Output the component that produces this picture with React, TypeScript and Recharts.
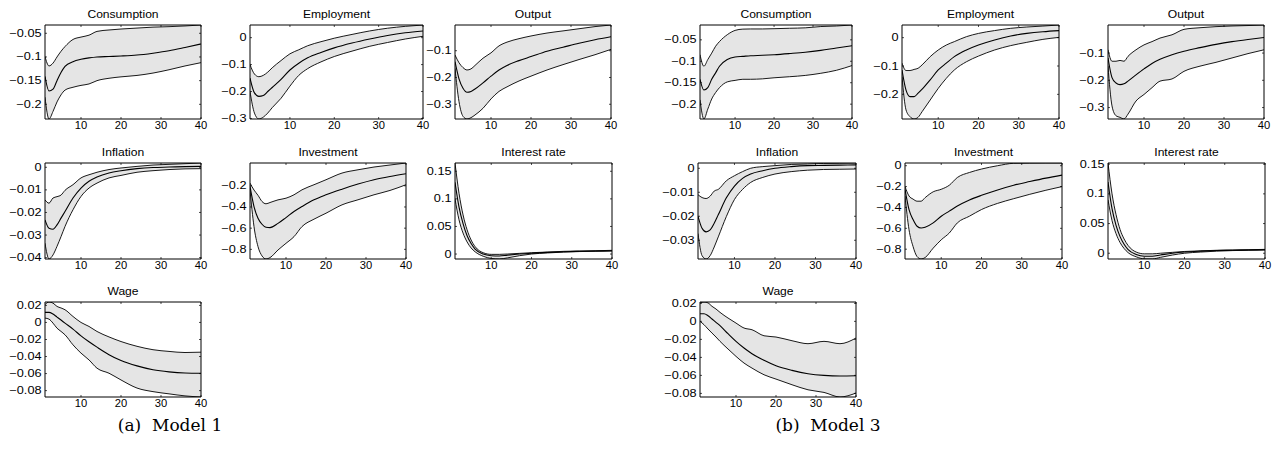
import React from 'react';
import { ComposedChart, Area, Line, XAxis, YAxis } from 'recharts';

// ---------- data ----------
const periods = [1, 2, 3, 4, 5, 6, 8, 10, 12, 14, 17, 20, 24, 28, 32, 36, 40];
const xTicks = [10, 20, 30, 40];

// Model 1
const cons1Hi = [-0.099, -0.119, -0.113, -0.1, -0.088, -0.078, -0.063, -0.058, -0.054, -0.046, -0.043, -0.041, -0.039, -0.037, -0.036, -0.0345, -0.0325];
const cons1Mid = [-0.141, -0.172, -0.168, -0.15, -0.133, -0.12, -0.11, -0.105, -0.102, -0.1, -0.099, -0.098, -0.096, -0.092, -0.087, -0.08, -0.0725];
const cons1Lo = [-0.185, -0.231, -0.215, -0.195, -0.18, -0.17, -0.164, -0.16, -0.157, -0.15, -0.145, -0.142, -0.139, -0.134, -0.127, -0.119, -0.112];

const empl1Hi = [-0.1, -0.135, -0.145, -0.14, -0.128, -0.112, -0.085, -0.06, -0.045, -0.03, -0.015, -0.002, 0.012, 0.025, 0.035, 0.042, 0.047];
const empl1Mid = [-0.15, -0.205, -0.218, -0.215, -0.2, -0.185, -0.155, -0.12, -0.095, -0.075, -0.055, -0.038, -0.02, -0.005, 0.008, 0.018, 0.025];
const empl1Lo = [-0.2, -0.28, -0.302, -0.295, -0.28, -0.26, -0.225, -0.18, -0.14, -0.115, -0.09, -0.07, -0.05, -0.032, -0.018, -0.005, 0.005];

const out1Hi = [-0.116, -0.145, -0.163, -0.172, -0.168, -0.155, -0.128, -0.108, -0.082, -0.068, -0.055, -0.045, -0.034, -0.026, -0.018, -0.01, -0.004];
const out1Mid = [-0.141, -0.205, -0.24, -0.255, -0.252, -0.243, -0.22, -0.195, -0.172, -0.155, -0.137, -0.122, -0.102, -0.087, -0.072, -0.059, -0.048];
const out1Lo = [-0.166, -0.29, -0.345, -0.355, -0.35, -0.34, -0.315, -0.28, -0.252, -0.235, -0.213, -0.195, -0.172, -0.152, -0.133, -0.115, -0.095];

const infl1Hi = [-0.0144, -0.0159, -0.0136, -0.013, -0.0123, -0.0102, -0.0077, -0.0047, -0.0033, -0.0022, -0.001, -0.0003, 0.0004, 0.001, 0.0013, 0.0016, 0.0019];
const infl1Mid = [-0.0233, -0.027, -0.0274, -0.0255, -0.0225, -0.0196, -0.0136, -0.0092, -0.0062, -0.0043, -0.0025, -0.0015, -0.0006, -0.0001, 0.0001, 0.0003, 0.0004];
const infl1Lo = [-0.0336, -0.0406, -0.0388, -0.035, -0.0307, -0.0262, -0.0188, -0.0129, -0.0092, -0.007, -0.0047, -0.0036, -0.0022, -0.0015, -0.001, -0.0007, -0.0006];

const inv1Hi = [-0.175, -0.24, -0.29, -0.348, -0.37, -0.358, -0.333, -0.317, -0.285, -0.238, -0.19, -0.143, -0.08, -0.049, -0.023, -0.004, 0.015];
const inv1Mid = [-0.206, -0.396, -0.506, -0.563, -0.592, -0.595, -0.555, -0.5, -0.443, -0.396, -0.332, -0.285, -0.232, -0.184, -0.143, -0.112, -0.086];
const inv1Lo = [-0.238, -0.585, -0.774, -0.862, -0.891, -0.878, -0.806, -0.743, -0.68, -0.585, -0.515, -0.459, -0.38, -0.332, -0.285, -0.244, -0.19];

const int1Hi = [0.165, 0.11, 0.071, 0.044, 0.0255, 0.0134, 0.0024, -0.0006, -0.0006, 0.0, 0.0012, 0.0024, 0.0036, 0.0049, 0.0055, 0.006, 0.0067];
const int1Mid = [0.13, 0.085, 0.055, 0.033, 0.019, 0.009, 0.0, -0.003, -0.0035, -0.002, 0.0, 0.0015, 0.003, 0.0042, 0.005, 0.0055, 0.006];
const int1Lo = [0.1, 0.062, 0.038, 0.022, 0.011, 0.004, -0.004, -0.008, -0.009, -0.007, -0.003, 0.0, 0.002, 0.0035, 0.0045, 0.005, 0.0055];

const wage1Hi = [0.021, 0.024, 0.0227, 0.0188, 0.017, 0.0149, 0.007, 0.0, -0.0047, -0.0106, -0.017, -0.0224, -0.028, -0.032, -0.034, -0.0353, -0.0349];
const wage1Mid = [0.0118, 0.0118, 0.0098, 0.0063, 0.0028, -0.0008, -0.0078, -0.0157, -0.0227, -0.029, -0.0378, -0.0447, -0.051, -0.0555, -0.058, -0.0593, -0.0596];
const wage1Lo = [0.0051, 0.0039, -0.0008, -0.0067, -0.0105, -0.0145, -0.0263, -0.036, -0.044, -0.0537, -0.0596, -0.0675, -0.077, -0.0812, -0.0838, -0.0862, -0.0875];

// Model 3
const cons3Hi = [-0.0846, -0.1115, -0.096, -0.081, -0.065, -0.054, -0.038, -0.028, -0.025, -0.0246, -0.0246, -0.024, -0.023, -0.022, -0.019, -0.0177, -0.0154];
const cons3Mid = [-0.142, -0.167, -0.1615, -0.142, -0.127, -0.1115, -0.096, -0.09, -0.0885, -0.087, -0.086, -0.0846, -0.082, -0.079, -0.0746, -0.069, -0.0638];
const cons3Lo = [-0.19, -0.2346, -0.2115, -0.188, -0.173, -0.1615, -0.148, -0.1446, -0.142, -0.142, -0.141, -0.1385, -0.136, -0.133, -0.128, -0.121, -0.11];

const empl3Hi = [-0.09, -0.116, -0.116, -0.112, -0.108, -0.096, -0.067, -0.0435, -0.026, -0.014, 0.0035, 0.015, 0.025, 0.033, 0.0376, 0.041, 0.0447];
const empl3Mid = [-0.114, -0.185, -0.208, -0.208, -0.196, -0.182, -0.149, -0.114, -0.09, -0.067, -0.0435, -0.026, -0.008, 0.006, 0.015, 0.021, 0.025];
const empl3Lo = [-0.138, -0.255, -0.279, -0.287, -0.281, -0.261, -0.22, -0.179, -0.1435, -0.114, -0.085, -0.065, -0.0435, -0.028, -0.0165, -0.006, 0.001];

const out3Hi = [-0.088, -0.13, -0.13, -0.127, -0.13, -0.112, -0.088, -0.07, -0.058, -0.045, -0.033, -0.013, -0.007, -0.003, -0.0006, 0.001, 0.003];
const out3Mid = [-0.118, -0.19, -0.21, -0.216, -0.213, -0.203, -0.18, -0.158, -0.138, -0.123, -0.106, -0.093, -0.08, -0.068, -0.058, -0.05, -0.043];
const out3Lo = [-0.148, -0.294, -0.33, -0.336, -0.342, -0.324, -0.276, -0.252, -0.227, -0.203, -0.195, -0.167, -0.148, -0.134, -0.118, -0.102, -0.088];

const infl3Hi = [-0.011, -0.0122, -0.0126, -0.0116, -0.0095, -0.0088, -0.0052, -0.0031, -0.0014, 0.0, 0.0007, 0.0011, 0.0016, 0.0018, 0.002, 0.0021, 0.0022];
const infl3Mid = [-0.02, -0.025, -0.0265, -0.0257, -0.0229, -0.0194, -0.0123, -0.0074, -0.0042, -0.0024, -0.001, 0.0, 0.0007, 0.0011, 0.0012, 0.0013, 0.0014];
const infl3Lo = [-0.0272, -0.0364, -0.0378, -0.0364, -0.0328, -0.0286, -0.0201, -0.013, -0.0088, -0.0059, -0.0038, -0.0024, -0.0014, -0.0008, -0.0005, -0.0004, -0.0003];

const inv3Hi = [-0.2, -0.29, -0.32, -0.34, -0.34, -0.306, -0.25, -0.226, -0.187, -0.113, -0.065, -0.032, 0.0, 0.023, 0.025, 0.026, 0.026];
const inv3Mid = [-0.226, -0.42, -0.516, -0.58, -0.597, -0.59, -0.548, -0.484, -0.435, -0.387, -0.329, -0.284, -0.232, -0.187, -0.152, -0.119, -0.09];
const inv3Lo = [-0.29, -0.613, -0.774, -0.871, -0.894, -0.88, -0.79, -0.71, -0.645, -0.548, -0.484, -0.42, -0.361, -0.316, -0.274, -0.235, -0.2];

const int3Hi = [0.152, 0.1, 0.065, 0.04, 0.024, 0.013, 0.002, -0.001, -0.001, 0.0, 0.0015, 0.003, 0.004, 0.005, 0.0055, 0.006, 0.0065];
const int3Mid = [0.12, 0.075, 0.047, 0.028, 0.015, 0.006, -0.002, -0.005, -0.005, -0.003, 0.0, 0.002, 0.0035, 0.0045, 0.005, 0.0055, 0.006];
const int3Lo = [0.09, 0.055, 0.033, 0.018, 0.008, 0.001, -0.006, -0.0095, -0.0097, -0.007, -0.003, 0.0, 0.002, 0.0035, 0.0045, 0.005, 0.0055];

const wage3Hi = [0.0204, 0.0215, 0.0205, 0.0167, 0.0137, 0.01, 0.0037, -0.0019, -0.0074, -0.0093, -0.016, -0.0174, -0.0215, -0.0248, -0.0222, -0.0248, -0.0185];
const wage3Mid = [0.0085, 0.0085, 0.0063, 0.0026, -0.0011, -0.0048, -0.0137, -0.0222, -0.0296, -0.0359, -0.0433, -0.0493, -0.0544, -0.0581, -0.06, -0.0607, -0.0604];
const wage3Lo = [0.0, -0.0037, -0.0085, -0.013, -0.0174, -0.0222, -0.0307, -0.0389, -0.0463, -0.0519, -0.0593, -0.0641, -0.0704, -0.076, -0.0789, -0.084, -0.0796];

// tick labels (y) per variable
const consTicks = [-0.2, -0.15, -0.1, -0.05];
const empl1Ticks = [-0.3, -0.2, -0.1, 0];
const empl3Ticks = [-0.2, -0.1, 0];
const outTicks = [-0.3, -0.2, -0.1];
const infl1Ticks = [-0.04, -0.03, -0.02, -0.01, 0];
const infl3Ticks = [-0.03, -0.02, -0.01, 0];
const inv1Ticks = [-0.8, -0.6, -0.4, -0.2];
const inv3Ticks = [-0.8, -0.6, -0.4, -0.2, 0];
const intTicks = [0, 0.05, 0.1, 0.15];
const wageTicks = [-0.08, -0.06, -0.04, -0.02, 0, 0.02];

const titles = ['Consumption', 'Employment', 'Output', 'Inflation', 'Investment', 'Interest rate', 'Wage'];
const captions = ['(a)  Model 1', '(b)  Model 3'];

// ---------- layout (plot boxes: left, top, right, bottom) ----------
const layout1 = [
  [45, 25, 201, 119], [250, 25, 423, 119], [455, 25, 611, 119],
  [45, 163, 201, 259], [250, 163, 406, 259], [455, 163, 612, 259],
  [45, 302, 201, 397],
];
const layout3 = [
  [700, 25, 852, 119], [902, 25, 1059, 119], [1108, 25, 1264, 119],
  [698, 163, 856, 259], [905, 163, 1062, 259], [1108, 163, 1265, 259],
  [700, 302, 856, 397],
];

const FONT = "'Liberation Sans', Arial, Helvetica, sans-serif";
const ML = 48, MR = 8, MT = 4, MB = 18;
const TL = 2;

const fmt = (v: number) => String(Math.round(v * 1000) / 1000).replace('-', '\u2212');

type PanelProps = { title: string; lo: number[]; mid: number[]; hi: number[]; yTicks: number[]; box: number[] };

function Panel({ title, lo, mid, hi, yTicks, box }: PanelProps) {
  const [l, t, r, b] = box;
  const w = r - l, h = b - t;
  const W = w + ML + MR, H = h + MT + MB;
  const data = periods.map((x, i) => ({ x, lo: lo[i], mid: mid[i], hi: hi[i], band: [lo[i], hi[i]] }));
  const dom = [Math.min(...lo), Math.max(...hi)];
  const left = ML, right = ML + w, top = MT, bottom = MT + h;

  const xBottomTick = (p: any) => (
    <g>
      <line x1={p.x} x2={p.x} y1={bottom} y2={bottom - TL} stroke="#000" strokeWidth={0.7} />
      <text transform={`translate(${p.x},${bottom + 10}) scale(1.12,1)`} textAnchor="middle" fontSize={10} fontFamily={FONT}
        style={{ fill: '#000' }}>
        {p.payload.value}
      </text>
    </g>
  );
  const xTopTick = (p: any) => (
    <line x1={p.x} x2={p.x} y1={top} y2={top + TL} stroke="#000" strokeWidth={0.7} />
  );
  const yLeftTick = (p: any) => (
    <g>
      <line x1={left} x2={left + TL} y1={p.y} y2={p.y} stroke="#000" strokeWidth={0.7} />
      <text transform={`translate(${left - 3.5},${p.y + 3.5}) scale(1.27,1)`} textAnchor="end" fontSize={10} fontFamily={FONT}
        style={{ fill: '#000' }}>
        {fmt(p.payload.value)}
      </text>
    </g>
  );
  const yRightTick = (p: any) => (
    <line x1={right} x2={right - TL} y1={p.y} y2={p.y} stroke="#000" strokeWidth={0.7} />
  );

  const axisLine = { stroke: '#000', strokeWidth: 1 };

  return (
    <>
      <div
        style={{
          position: 'absolute', left: l, top: t - 18, width: w, height: 14, lineHeight: '14px',
          textAlign: 'center', fontFamily: FONT, fontSize: 10.5, color: '#000',
          transform: 'scaleX(1.15)', whiteSpace: 'nowrap',
        }}
      >
        {title}
      </div>
      <div style={{ position: 'absolute', left: l - ML, top: t - MT }}>
        <ComposedChart width={W} height={H} data={data} margin={{ top: 0, right: 0, bottom: 0, left: 0 }}>
          <XAxis xAxisId="b" dataKey="x" type="number" domain={[1, 40]} ticks={xTicks} interval={0}
            height={MB} tickSize={0} tickLine={false} axisLine={axisLine} tick={xBottomTick} allowDataOverflow />
          <XAxis xAxisId="t" orientation="top" dataKey="x" type="number" domain={[1, 40]} ticks={xTicks} interval={0}
            height={MT} tickSize={0} tickLine={false} axisLine={axisLine} tick={xTopTick} allowDataOverflow />
          <YAxis yAxisId="l" type="number" domain={dom} ticks={yTicks} interval={0}
            width={ML} tickSize={0} tickLine={false} axisLine={axisLine} tick={yLeftTick} allowDataOverflow />
          <YAxis yAxisId="r" orientation="right" type="number" domain={dom} ticks={yTicks} interval={0}
            width={MR} tickSize={0} tickLine={false} axisLine={axisLine} tick={yRightTick} allowDataOverflow />
          <Area xAxisId="b" yAxisId="l" dataKey="band" type="monotone" fill="#e5e5e5" fillOpacity={1} stroke="none"
            dot={false} activeDot={false} isAnimationActive={false} />
          <Line xAxisId="b" yAxisId="l" dataKey="hi" type="monotone" stroke="#000" strokeWidth={0.9} dot={false} activeDot={false} isAnimationActive={false} />
          <Line xAxisId="b" yAxisId="l" dataKey="lo" type="monotone" stroke="#000" strokeWidth={0.9} dot={false} activeDot={false} isAnimationActive={false} />
          <Line xAxisId="b" yAxisId="l" dataKey="mid" type="monotone" stroke="#000" strokeWidth={1.1} dot={false} activeDot={false} isAnimationActive={false} />
        </ComposedChart>
      </div>
    </>
  );
}

const model1 = [
  { lo: cons1Lo, mid: cons1Mid, hi: cons1Hi, yTicks: consTicks },
  { lo: empl1Lo, mid: empl1Mid, hi: empl1Hi, yTicks: empl1Ticks },
  { lo: out1Lo, mid: out1Mid, hi: out1Hi, yTicks: outTicks },
  { lo: infl1Lo, mid: infl1Mid, hi: infl1Hi, yTicks: infl1Ticks },
  { lo: inv1Lo, mid: inv1Mid, hi: inv1Hi, yTicks: inv1Ticks },
  { lo: int1Lo, mid: int1Mid, hi: int1Hi, yTicks: intTicks },
  { lo: wage1Lo, mid: wage1Mid, hi: wage1Hi, yTicks: wageTicks },
];
const model3 = [
  { lo: cons3Lo, mid: cons3Mid, hi: cons3Hi, yTicks: consTicks },
  { lo: empl3Lo, mid: empl3Mid, hi: empl3Hi, yTicks: empl3Ticks },
  { lo: out3Lo, mid: out3Mid, hi: out3Hi, yTicks: outTicks },
  { lo: infl3Lo, mid: infl3Mid, hi: infl3Hi, yTicks: infl3Ticks },
  { lo: inv3Lo, mid: inv3Mid, hi: inv3Hi, yTicks: inv3Ticks },
  { lo: int3Lo, mid: int3Mid, hi: int3Hi, yTicks: intTicks },
  { lo: wage3Lo, mid: wage3Mid, hi: wage3Hi, yTicks: wageTicks },
];

export default function App() {
  return (
    <div style={{ position: 'absolute', left: 0, top: 0, width: 1287, height: 457, background: '#fff', overflow: 'hidden' }}>
      {model1.map((p, i) => (
        <Panel key={'m1' + i} title={titles[i]} lo={p.lo} mid={p.mid} hi={p.hi} yTicks={p.yTicks} box={layout1[i]} />
      ))}
      {model3.map((p, i) => (
        <Panel key={'m3' + i} title={titles[i]} lo={p.lo} mid={p.mid} hi={p.hi} yTicks={p.yTicks} box={layout3[i]} />
      ))}
      {captions.map((c, i) => (
        <div key={c} style={{
          position: 'absolute', left: i === 0 ? 90 : 748, top: 415, width: 160, textAlign: 'center',
          fontFamily: "'DejaVu Serif', 'Liberation Serif', serif", fontSize: 17, color: '#000', whiteSpace: 'pre',
        }}>{c}</div>
      ))}
    </div>
  );
}
